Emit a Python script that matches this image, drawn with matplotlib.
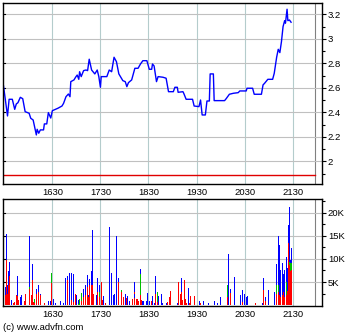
import matplotlib
matplotlib.use("Agg")
import matplotlib.pyplot as plt
from matplotlib.ticker import FixedLocator, MultipleLocator

plt.rcParams['font.family'] = ['Liberation Sans', 'DejaVu Sans']

# time in minutes since midnight (UK time)
price_t = [929, 934, 936, 940, 943, 945, 947, 950, 953, 956, 961, 963, 966, 970, 971,
           973, 975, 979, 980, 983, 985, 988, 990, 997, 1002, 1004, 1007, 1010, 1012, 1013,
           1017, 1019, 1021, 1023, 1024, 1026, 1029, 1032, 1034, 1036, 1039, 1043, 1046, 1048, 1050,
           1051, 1058, 1061, 1064, 1067, 1070, 1073, 1078, 1081, 1083, 1085, 1089, 1093, 1097, 1100,
           1103, 1108, 1111, 1114, 1115, 1117, 1120, 1122, 1128, 1132, 1135, 1141, 1143, 1146, 1147,
           1153, 1154, 1157, 1165, 1167, 1173, 1175, 1177, 1181, 1183, 1186, 1187, 1191, 1192, 1205,
           1207, 1211, 1216, 1222, 1224, 1232, 1233, 1240, 1242, 1251, 1253, 1255, 1259, 1265, 1267,
           1270, 1272, 1274, 1276, 1278, 1280, 1281, 1283, 1284, 1286, 1288]
price = [2.615, 2.370, 2.506, 2.506, 2.424, 2.468, 2.478, 2.522, 2.511, 2.405, 2.392, 2.351, 2.337, 2.215, 2.261,
         2.229, 2.256, 2.256, 2.305, 2.305, 2.397, 2.353, 2.413, 2.433, 2.451, 2.473, 2.527, 2.549, 2.527, 2.650,
         2.664, 2.686, 2.704, 2.669, 2.731, 2.691, 2.740, 2.745, 2.740, 2.833, 2.745, 2.713, 2.745, 2.691, 2.604,
         2.691, 2.691, 2.745, 2.731, 2.849, 2.813, 2.713, 2.658, 2.650, 2.609, 2.642, 2.664, 2.759, 2.759, 2.794,
         2.821, 2.821, 2.751, 2.751, 2.794, 2.778, 2.650, 2.691, 2.686, 2.678, 2.568, 2.568, 2.604, 2.604, 2.563,
         2.568, 2.555, 2.506, 2.506, 2.451, 2.446, 2.500, 2.378, 2.378, 2.492, 2.492, 2.713, 2.713, 2.495, 2.495,
         2.511, 2.547, 2.555, 2.560, 2.574, 2.574, 2.596, 2.596, 2.547, 2.547, 2.623, 2.637, 2.669, 2.669, 2.718,
         2.849, 2.914, 2.887, 2.976, 3.099, 3.148, 3.127, 3.241, 3.148, 3.153, 3.135]
ref_level = 1.888
session_end = 1318

# volume bars (thousands): total, red part, green part (blue = rest)
vol_t = [929, 931, 933, 934, 935, 937, 939, 941, 943, 945, 946, 948, 950, 951, 952, 955, 956,
         962, 964, 965, 967, 968, 970, 972, 973, 975, 980, 985, 988, 989, 991, 994, 997, 1000,
         1002, 1004, 1006, 1007, 1009, 1011, 1012, 1014, 1016, 1017, 1019, 1020, 1022, 1023, 1024,
         1026, 1027, 1029, 1031, 1032, 1034, 1035, 1036, 1037, 1039, 1040, 1041, 1045, 1046, 1047,
         1049, 1051, 1053, 1054, 1056, 1061, 1064, 1066, 1067, 1068, 1070, 1072, 1073, 1076, 1077,
         1079, 1081, 1083, 1084, 1086, 1087, 1090, 1092, 1093, 1095, 1096, 1098, 1100, 1101, 1102,
         1104, 1107, 1109, 1111, 1114, 1115, 1117, 1119, 1121, 1122, 1126, 1128, 1133, 1134, 1136,
         1137, 1146, 1147, 1148, 1150, 1151, 1153, 1155, 1156, 1158, 1160, 1161, 1163, 1167, 1168,
         1174, 1175, 1178, 1179, 1183, 1185, 1192, 1196, 1200, 1203, 1209, 1210, 1212, 1217, 1223,
         1225, 1227, 1228, 1230, 1232, 1234, 1244, 1252, 1254, 1256, 1258, 1260, 1267, 1268, 1270,
         1272, 1273, 1274, 1275, 1277, 1278, 1279, 1280, 1282, 1283, 1284, 1285, 1286, 1287, 1289]
vol_total = [12.7, 4.0, 15.4, 4.3, 7.4, 9.4, 1.1, 0.4, 0.6, 2.2, 6.2, 1.1, 1.8, 1.6, 2.2, 0.9, 2.3,
             15.0, 2.2, 8.8, 0.7, 1.3, 3.5, 3.5, 4.3, 2.5, 0.4, 0.9, 0.9, 6.9, 1.3, 0.4, 0.2, 0.9,
             0.5, 0.5, 5.9, 2.3, 6.3, 6.9, 10.9, 7.0, 6.7, 6.5, 2.5, 2.2, 6.2, 1.0, 1.3,
             2.7, 3.8, 3.4, 4.3, 4.0, 6.5, 2.2, 5.6, 7.4, 7.3, 16.3, 2.3, 2.2, 5.8, 4.3,
             4.3, 4.9, 1.1, 2.0, 0.4, 17.0, 6.9, 2.2, 2.3, 2.3, 15.0, 10.0, 5.8, 3.3, 3.6,
             1.8, 2.5, 1.6, 2.0, 0.9, 0.9, 1.3, 5.1, 2.5, 1.3, 1.3, 0.9, 7.8, 1.1, 0.9,
             0.9, 0.9, 2.7, 0.9, 0.9, 2.0, 0.4, 6.3, 2.9, 2.0, 2.3, 0.4, 0.4, 0.7, 1.8,
             3.0, 0.4, 4.3, 4.9, 2.5, 5.9, 1.1, 5.4, 1.3, 0.4, 3.6, 0.4, 2.0, 2.0, 3.0,
             0.9, 0.4, 4.1, 0.9, 5.1, 0.4, 0.9, 0.4, 1.8, 0.2, 4.3, 11.1, 3.4, 6.0, 5.8,
             2.2, 3.3, 2.7, 2.4, 1.8, 2.0, 0.4, 0.5, 5.8, 1.8, 1.7, 3.3, 2.9, 6.5, 8.8,
             14.9, 18.9, 13.0, 7.6, 9.1, 10.9, 6.7, 7.6, 10.5, 6.5, 8.0, 17.3, 21.2, 9.8, 12.3]
vol_red = [6.9, 2.2, 9.8, 2.5, 4.3, 6.4, 0, 0.4, 0.6, 2.2, 2.0, 1.1, 0, 0, 0, 0.9, 2.3,
           3.5, 2.2, 5.4, 0.7, 0.4, 2.5, 2.9, 2.9, 2.2, 0.4, 0, 0, 4.7, 0, 0, 0.2, 0,
           0, 0, 0, 0, 5.4, 0, 9.8, 1.1, 0.6, 0, 2.3, 0, 5.1, 0, 0,
           0.9, 1.6, 1.8, 2.2, 1.8, 4.0, 1.8, 4.3, 4.0, 4.3, 4.3, 2.3, 0, 2.9, 2.9,
           1.8, 4.9, 1.1, 0, 0.4, 0, 0, 0, 1.1, 0, 0, 3.3, 5.1, 2.9, 3.6,
           1.8, 0, 1.6, 0, 0, 0, 1.3, 2.9, 1.5, 1.3, 1.3, 0.9, 2.2, 1.1, 0,
           0, 0, 0, 0, 0.9, 0, 0, 2.5, 0.7, 0, 0, 0, 0, 0.7, 1.8,
           3.0, 0, 4.3, 4.9, 2.5, 2.9, 1.1, 5.4, 1.3, 0.4, 0, 0.4, 2.0, 2.0, 3.0,
           0, 0.4, 3.6, 0, 0, 0, 0, 0, 0, 0.2, 1.8, 0, 2.7, 0, 0,
           0, 0.7, 0, 0, 0, 0, 0.4, 0, 3.3, 0.9, 0, 0, 0, 2.2, 2.5,
           2.9, 2.2, 2.2, 1.8, 2.2, 2.3, 2.9, 1.8, 2.2, 2.9, 3.0, 13.4, 8.7, 7.3, 7.6]
vol_green = [1.8, 0, 0, 0, 0, 0, 0, 0, 0, 0, 0, 0, 0, 0, 0, 0, 0,
             0.4, 0, 0, 0, 0.9, 0, 0, 0, 0, 0, 0, 0, 2.2, 0, 0, 0, 0,
             0, 0, 0, 0, 0, 0, 0, 0, 0, 0, 0, 0, 0, 0.3, 1.3,
             1.8, 2.2, 0, 0, 0, 0, 0, 0, 0, 0, 0, 0, 0, 0, 0.2,
             1.1, 0, 0, 0, 0, 0, 0, 0, 0, 0, 0, 0, 0, 0.4, 0,
             0, 0, 0, 0, 0, 0, 0, 0, 0, 0, 0, 0, 4.5, 0, 0,
             0, 0, 0, 0, 0, 0, 0, 0, 2.2, 0, 0, 0, 0, 0, 0,
             0, 0, 0, 0, 0, 0, 0, 0, 0, 0, 0, 0, 0, 0, 0,
             0, 0, 0, 0, 0, 0, 0, 0, 0, 0, 2.5, 0, 0, 0, 0,
             0, 0, 0, 0, 0, 0, 0, 0, 0, 0, 0, 0, 0, 0, 1.8,
             1.5, 2.4, 0, 0, 0, 2.4, 0, 0, 2.9, 0, 0, 0, 0.7, 1.8, 1.5]

x_ticks = [990, 1050, 1110, 1170, 1230, 1290]
x_labels = ['1630', '1730', '1830', '1930', '2030', '2130']
price_ticks = [2.0, 2.2, 2.4, 2.6, 2.8, 3.0, 3.2]
price_labels = ['2', '2.2', '2.4', '2.6', '2.8', '3', '3.2']
vol_ticks = [5, 10, 15, 20]
vol_labels = ['5K', '10K', '15K', '20K']

W, H = 360, 336
fig = plt.figure(figsize=(W / 100, H / 100), dpi=100)
ax1 = fig.add_axes([2.7 / W, 1 - 184.3 / H, (322.3 - 2.7) / W, (184.3 - 2.5) / H])
ax2 = fig.add_axes([2.7 / W, 1 - 306 / H, (322.3 - 2.7) / W, (306 - 199) / H])

vgrid = '#b4cccc'
hgrid = '#c0c0c0'
fs = 6.8

for ax in (ax1, ax2):
    ax.set_xlim(928, 1327)
    ax.set_xticks(x_ticks)
    ax.set_xticklabels(x_labels, fontsize=fs)
    ax.tick_params(axis='x', length=0, pad=3)
    ax.yaxis.tick_right()
    ax.tick_params(axis='y', which='major', direction='out', length=3, width=0.8,
                   labelsize=fs, pad=1, right=True, left=False)
    ax.tick_params(axis='y', which='minor', direction='out', length=2, width=0.8, right=True, left=False)
    for x in x_ticks:
        ax.axvline(x, color=vgrid, lw=0.8, zorder=0)
    ax.axvline(session_end, color='#808080', lw=0.8, zorder=0)
    for s in ax.spines.values():
        s.set_linewidth(1.0)

# price panel
ax1.set_ylim(1.812, 3.296)
ax1.set_yticks(price_ticks)
ax1.set_yticklabels(price_labels)
ax1.yaxis.set_minor_locator(MultipleLocator(0.1))
for y in price_ticks:
    ax1.axhline(y, color=hgrid, lw=0.8, zorder=0)
    # short inward tick on the left spine
    ax1.plot([0, 0.008], [y, y], color='black', lw=0.8,
             transform=ax1.get_yaxis_transform(), clip_on=False)
ax1.plot([928, session_end], [ref_level, ref_level], color='#e00000', lw=1.0, zorder=1)
ax1.plot(price_t, price, color='#0000ff', lw=1.0, zorder=2)

# volume panel
blue_part = [max(t - r - g, 0) for t, r, g in zip(vol_total, vol_red, vol_green)]
green_base = vol_red
blue_base = [r + g for r, g in zip(vol_red, vol_green)]
bw = 1.1
ax2.bar(vol_t, vol_red, width=bw, color='#ff0000', linewidth=0, zorder=2)
ax2.bar(vol_t, vol_green, width=bw, bottom=green_base, color='#00c000', linewidth=0, zorder=2)
ax2.bar(vol_t, blue_part, width=bw, bottom=blue_base, color='#0000ff', linewidth=0, zorder=2)
ax2.set_ylim(-0.2, 23.0)
ax2.set_yticks(vol_ticks)
ax2.set_yticklabels(vol_labels)
ax2.yaxis.set_minor_locator(FixedLocator([2.5, 7.5, 12.5, 17.5, 22.5]))
for y in vol_ticks:
    ax2.axhline(y, color=hgrid, lw=0.8, zorder=0)
    ax2.plot([0, 0.008], [y, y], color='black', lw=0.8,
             transform=ax2.get_yaxis_transform(), clip_on=False)

fig.text(3 / W, 1 - 328 / H, '(c) www.advfn.com', fontsize=fs, va='center', ha='left')

fig.savefig('out.png', dpi=100)
